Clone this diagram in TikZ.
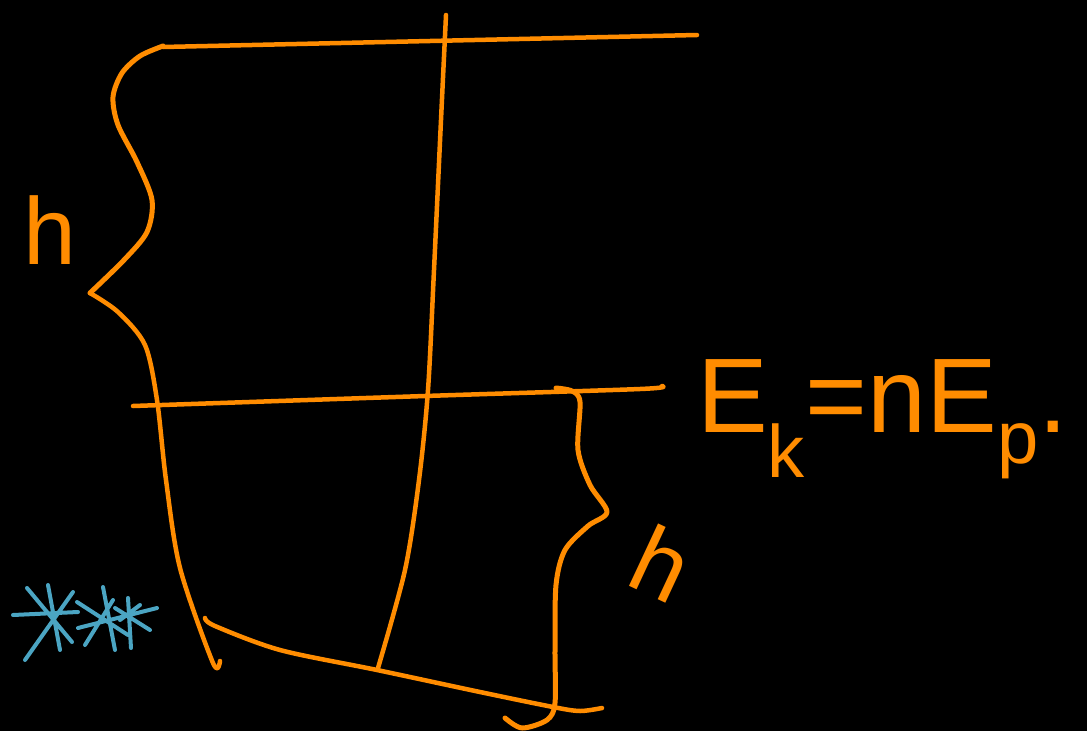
\documentclass[tikz,border=0pt]{standalone}
\usepackage{fontspec}
\setmainfont{Liberation Sans}
\usetikzlibrary{positioning}
\definecolor{chalk}{RGB}{255,140,0}
\definecolor{ice}{RGB}{75,165,195}

\begin{document}
\begin{tikzpicture}[x=1pt, y=-1pt,
  every node/.style={text=chalk, inner sep=0pt},
  pen/.style={draw=chalk, line width=4.5pt, line cap=round, line join=round},
  brace/.style={pen, line width=5pt},
  dust/.style={draw=ice, line width=4pt, line cap=round},
  big/.style={font=\fontsize{95}{95}\selectfont}]

\fill[black] (0,0) rectangle (1087,731);
\useasboundingbox (0,0) rectangle (1087,731);

% frame lines
\draw[pen] (163,47) -- (697,35);
\draw[pen] plot[smooth] coordinates {(133,406) (425,396) (640,389) (662,386)};
\draw[pen] plot[smooth] coordinates {(446,15) (441,120) (434,270) (428,390) (419,480) (405,570) (378,668)};
\draw[pen] plot[smooth] coordinates {(205,618) (215,626) (280,650) (377,670) (480,692) (553,707) (580,711) (602,708)};

% braces
\draw[brace] plot[smooth] coordinates {(163,46) (140,56) (122,73) (113,97) (118,125) (137,162) (152,200) (147,232) (124,260) (90,293)};
\draw[pen] plot[smooth] coordinates {(90,293) (118,312) (145,345) (157,400) (166,480) (180,568) (213,663) (220,661)};
\draw[brace] plot[smooth] coordinates {(556,388) (572,391) (580,402) (578,450) (590,485) (607,512) (588,526) (565,550) (556,585) (555,650) (555,703) (547,720) (522,728) (505,718)};

% stars
\draw[dust] (48,585) -- (60,650) (27,588) -- (72,642) (13,615) -- (78,612) (25,660) -- (73,592);
\draw[dust] (103,587) -- (115,650) (77,602) -- (128,635) (78,628) -- (157,608) (85,645) -- (113,600)
  (128,598) -- (131,648) (115,608) -- (150,630) (120,620) -- (140,605);

% labels
\node[big] (hleft) at (50,230) {h};
\node[big, rotate=-25] (hright) at (662,563) {h};
\node[big, font=\fontsize{106}{106}\selectfont, anchor=base west] (energy) at (697,432) {E\textsubscript{k}=nE\textsubscript{p}.};
\end{tikzpicture}
\end{document}
